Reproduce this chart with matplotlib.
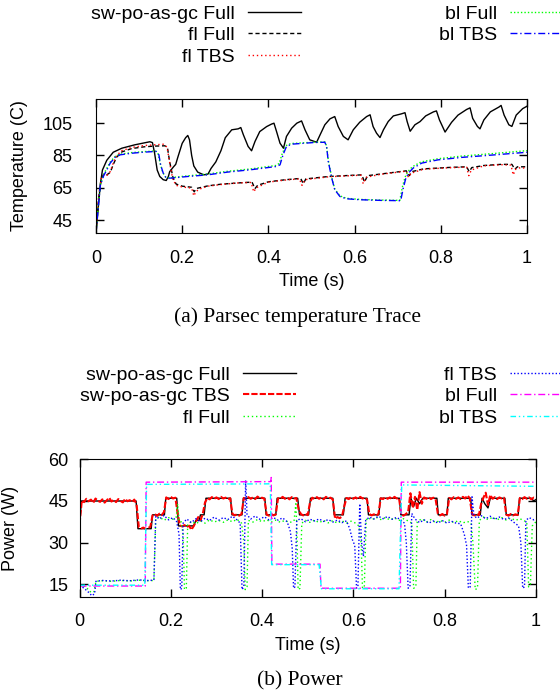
import matplotlib
matplotlib.use("Agg")
import matplotlib.pyplot as plt
import numpy as np

plt.rcParams['font.family'] = ['Liberation Sans', 'DejaVu Sans']

# ---- (a) temperature trace, (time s, temperature C) ----
sw_full_t = [0, 0.005, 0.01, 0.015, 0.025, 0.04, 0.06, 0.09, 0.125, 0.131, 0.136, 0.142, 0.148, 0.156, 0.163,
             0.168, 0.171, 0.18, 0.185, 0.19, 0.2, 0.208, 0.213, 0.217, 0.222, 0.227, 0.236, 0.25, 0.26, 0.267,
             0.278, 0.29, 0.3, 0.315, 0.33, 0.336, 0.342, 0.353, 0.361, 0.369, 0.38, 0.396, 0.407, 0.413, 0.419,
             0.427, 0.435, 0.442, 0.454, 0.466, 0.477, 0.485, 0.496, 0.512, 0.52, 0.531, 0.543, 0.554, 0.562,
             0.574, 0.585, 0.597, 0.612, 0.628, 0.636, 0.643, 0.651, 0.659, 0.667, 0.678, 0.69, 0.709, 0.717,
             0.722, 0.729, 0.74, 0.752, 0.765, 0.783, 0.79, 0.797, 0.81, 0.825, 0.84, 0.86, 0.868, 0.874, 0.885,
             0.891, 0.9, 0.915, 0.935, 0.94, 0.947, 0.958, 0.965, 0.975, 0.99, 1.0]
sw_full_v = [37, 52, 67, 76, 82, 87, 89.5, 91.6, 93.5, 93, 86.4, 76, 72, 70, 69.5,
             72, 75, 78, 79.5, 84, 92.5, 96, 97.4, 94.7, 85, 78.5, 74.7, 73, 73.5, 77,
             81, 88, 96, 100.9, 101.5, 102.3, 97.8, 90.6, 87.9, 93.7, 99.8, 102.9, 104.4, 105, 99.8,
             92.6, 89.5, 96.8, 101.9, 105, 106.4, 100.9, 94.7, 93.2, 97.8, 104, 107.7, 109.1, 102.9,
             96.8, 94.7, 100.9, 105.6, 109.1, 110.2, 102.9, 98.8, 96.1, 100.9, 106, 109.5, 110.8, 111.5,
             106, 100, 104, 106, 109.5, 112, 112.6, 107, 99.5, 105.5, 110, 113.5, 114.5, 108, 103,
             101.5, 107, 112, 115, 116, 110, 104, 103, 110, 114, 115.5]

fl_full_t = [0, 0.006, 0.012, 0.018, 0.025, 0.033, 0.041, 0.048, 0.06, 0.083, 0.113, 0.136, 0.16, 0.166, 0.171,
             0.179, 0.186, 0.2, 0.222, 0.228, 0.232, 0.26, 0.29, 0.33, 0.362, 0.369, 0.375, 0.4, 0.44, 0.475,
             0.481, 0.487, 0.54, 0.6, 0.617, 0.623, 0.63, 0.66, 0.72, 0.727, 0.733, 0.76, 0.82, 0.86, 0.866,
             0.872, 0.9, 0.94, 0.965, 0.972, 0.978, 1.0]
fl_full_v = [37, 58, 70, 73.5, 73, 74.5, 80, 84, 87.2, 89.3, 90.4, 90.8, 91, 89.5, 81,
             71, 67.3, 66, 65.3, 62.5, 64.5, 66.2, 67.2, 68, 68.5, 64.5, 66.5, 68.7, 70, 70.8,
             67.5, 70.5, 72, 72.8, 73, 68.5, 72.5, 73.5, 75.5, 72.5, 75, 76.7, 77.6, 78, 75,
             77.5, 78.8, 79.5, 79.5, 76.5, 78, 78]

fl_tbs_t = [0, 0.006, 0.012, 0.018, 0.025, 0.033, 0.041, 0.048, 0.06, 0.083, 0.113, 0.136, 0.158, 0.165, 0.17,
            0.178, 0.186, 0.2, 0.222, 0.227, 0.232, 0.238, 0.26, 0.29, 0.33, 0.36, 0.366, 0.372, 0.4, 0.44,
            0.472, 0.478, 0.485, 0.54, 0.6, 0.615, 0.62, 0.627, 0.66, 0.72, 0.725, 0.731, 0.76, 0.82, 0.86,
            0.865, 0.871, 0.9, 0.94, 0.963, 0.968, 0.974, 0.985, 1.0]
fl_tbs_v = [37, 60, 70.5, 73, 72.5, 75, 81, 85, 88, 90, 91.2, 91.6, 92, 90, 82,
            70.5, 66.5, 65.5, 64.8, 60, 62.5, 64, 66, 67, 68, 68.3, 62.5, 65, 68.5, 69.8,
            70.5, 66.5, 70, 71.8, 72.6, 72.8, 67.5, 71.5, 73.3, 75.3, 71.5, 74, 76.5, 77.4, 77.8,
            72.5, 76, 78.6, 79.3, 79, 73, 76.5, 77.5, 77]

bl_full_t = [0, 0.005, 0.01, 0.018, 0.025, 0.033, 0.044, 0.056, 0.083, 0.113, 0.138, 0.144, 0.149, 0.155, 0.162,
             0.175, 0.213, 0.259, 0.305, 0.36, 0.417, 0.425, 0.432, 0.44, 0.452, 0.504, 0.531, 0.535, 0.539,
             0.547, 0.554, 0.566, 0.581, 0.612, 0.66, 0.705, 0.711, 0.717, 0.723, 0.734, 0.754, 0.794, 0.848,
             0.926, 1.0]
bl_full_v = [37, 53, 67, 73.5, 77, 81, 84.3, 85.8, 86.8, 87.4, 87.8, 86, 80, 74.5, 71.3,
             71.3, 72.4, 73.5, 75.2, 76.7, 78.8, 80, 86, 91, 92.4, 93.2, 93.4, 91, 82,
             71.5, 64.2, 60, 58.5, 57.8, 57.4, 57.2, 65.5, 71.5, 74.8, 78, 81, 83, 84.6,
             86.3, 88]

bl_tbs_t = [0, 0.005, 0.01, 0.018, 0.025, 0.033, 0.044, 0.056, 0.083, 0.113, 0.14, 0.146, 0.15, 0.156, 0.163,
            0.175, 0.213, 0.259, 0.305, 0.36, 0.419, 0.427, 0.434, 0.442, 0.454, 0.504, 0.531, 0.535, 0.539,
            0.547, 0.554, 0.566, 0.581, 0.612, 0.66, 0.707, 0.713, 0.719, 0.725, 0.736, 0.756, 0.794, 0.848,
            0.926, 1.0]
bl_tbs_v = [37, 52, 66.4, 72.6, 76, 80.3, 83.8, 85.4, 86.4, 87.1, 87.5, 85.4, 79.2, 74.1, 71,
            71, 72, 73, 74.7, 76.2, 78.2, 79.2, 85.4, 90.6, 92, 93, 93.2, 90.6, 81.3,
            71, 63.8, 59.6, 58.2, 57.6, 57.2, 57, 64.8, 71, 74.1, 77.2, 80.3, 82.3, 83.8,
            85.4, 87]

# ---- (b) power, (time s, power W) ----
p_sw_full_t = [0, 0.004, 0.124, 0.128, 0.157, 0.16, 0.186, 0.189, 0.213, 0.217, 0.25, 0.255, 0.262, 0.265,
               0.273, 0.277, 0.331, 0.334, 0.356, 0.359, 0.406, 0.409, 0.43, 0.433, 0.478, 0.482, 0.502,
               0.506, 0.555, 0.558, 0.578, 0.582, 0.63, 0.633, 0.656, 0.659, 0.701, 0.704, 0.722, 0.726,
               0.732, 0.738, 0.745, 0.752, 0.783, 0.786, 0.805, 0.808, 0.857, 0.86, 0.878, 0.882, 0.888,
               0.895, 0.9, 0.932, 0.935, 0.961, 0.964, 0.99, 0.995, 1.0]
p_sw_full_v = [36, 45, 45, 35, 35, 40, 40, 46, 46, 36, 36, 38, 38, 40,
               40, 46, 46, 40, 40, 46, 46, 40, 40, 46, 46, 40, 40,
               46, 46, 40, 40, 46, 46, 40, 40, 46, 46, 40, 40, 46,
               43, 46, 44, 46, 46, 40, 40, 46, 46, 40, 40, 46, 44,
               42.5, 46, 46, 40, 40, 46, 46, 45, 45.5]

# sw-po-as-gc TBS sampled every 5 ms
p_sw_tbs_t = np.linspace(0, 1, 201)
p_sw_tbs_v = [36.5, 45.2, 44.6, 45.8, 44.9, 45.5, 44.3, 45.9, 45.1, 44.7,
              45.6, 44.4, 45.3, 46.2, 44.8, 45.4, 44.6, 45.7, 45.0, 44.5,
              45.8, 44.9, 45.3, 44.6, 45.5, 43.8, 35.5, 35.1, 35.4, 34.9,
              35.3, 35.6, 39.8, 40.3, 39.6, 40.4, 39.9, 41.0, 46.3, 45.7,
              46.5, 45.9, 46.2, 40.5, 36.2, 35.8, 36.3, 35.6, 36.1, 34.6,
              35.9, 37.5, 39.2, 38.0, 40.3, 44.5, 46.1, 45.6, 46.4, 45.8,
              46.3, 45.7, 46.5, 45.9, 46.2, 45.6, 46.0, 40.4, 39.8, 40.2,
              39.7, 40.3, 46.1, 45.6, 46.4, 45.8, 46.3, 45.7, 46.6, 45.9,
              46.2, 45.8, 40.1, 39.7, 40.3, 39.8, 40.2, 46.0, 45.7, 46.5,
              45.8, 46.3, 45.6, 46.4, 45.9, 46.1, 42.0, 40.3, 39.8, 40.4,
              39.9, 44.5, 46.2, 45.7, 46.4, 45.8, 46.3, 45.6, 46.5, 45.9,
              46.2, 45.5, 38.6, 39.2, 38.8, 39.4, 43.0, 46.1, 45.7, 46.4,
              45.8, 46.3, 45.6, 46.5, 45.9, 46.2, 45.5, 40.3, 39.8, 40.2,
              39.6, 40.4, 46.0, 45.7, 46.4, 45.8, 46.3, 45.6, 46.5, 45.9,
              46.1, 40.2, 39.7, 40.3, 41.0, 47.8, 42.5, 46.5, 41.8, 48.2,
              44.0, 46.3, 45.8, 46.4, 45.7, 46.2, 45.9, 40.5, 39.8, 40.3,
              39.7, 40.2, 46.1, 45.6, 46.4, 45.8, 46.3, 45.7, 46.5, 45.9,
              47.0, 46.0, 40.3, 39.8, 40.4, 39.9, 44.0, 46.2, 48.0, 43.5,
              47.2, 45.8, 46.4, 45.7, 46.3, 45.9, 46.2, 40.1, 39.7, 40.3,
              39.8, 40.2, 39.9, 46.1, 45.7, 46.4, 45.8, 46.3, 45.6, 46.2,
              45.9]

p_fl_full_t = [0, 0.01, 0.02, 0.025, 0.032, 0.036, 0.05, 0.07, 0.09, 0.11, 0.13, 0.15, 0.163, 0.167, 0.175,
               0.185, 0.195, 0.205, 0.212, 0.215, 0.218, 0.222, 0.227, 0.23, 0.234, 0.237, 0.245, 0.255,
               0.265, 0.275, 0.285, 0.295, 0.305, 0.315, 0.325, 0.335, 0.345, 0.355, 0.36, 0.363, 0.367,
               0.37, 0.38, 0.39, 0.4, 0.41, 0.42, 0.43, 0.44, 0.45, 0.46, 0.47, 0.474, 0.476, 0.479, 0.483,
               0.487, 0.495, 0.505, 0.515, 0.525, 0.535, 0.545, 0.555, 0.565, 0.575, 0.585, 0.595, 0.605,
               0.612, 0.617, 0.62, 0.624, 0.628, 0.632, 0.64, 0.65, 0.66, 0.67, 0.68, 0.69, 0.7, 0.71,
               0.72, 0.728, 0.732, 0.737, 0.74, 0.75, 0.76, 0.77, 0.78, 0.79, 0.8, 0.81, 0.82, 0.83, 0.84,
               0.85, 0.858, 0.862, 0.867, 0.872, 0.876, 0.885, 0.895, 0.905, 0.915, 0.925, 0.935, 0.945,
               0.955, 0.965, 0.975, 0.98, 0.984, 0.988, 0.992, 1.0]
p_fl_full_v = [14.8, 14.2, 13, 12, 12.3, 16, 16.2, 16, 16.3, 16.1, 16.4, 16.2, 16.3, 38.5, 39.3,
               38, 39, 38.4, 39.2, 44, 38, 38, 33, 13, 13.5, 36.5, 37.6, 36.8,
               37.8, 37, 38.2, 37.4, 38, 37.3, 38.2, 37.5, 38.4, 37, 30, 13, 14,
               38, 37.4, 38.3, 37.5, 38.2, 37.4, 38.1, 37.3, 38, 37.2, 37.8, 44, 36, 13, 13.5,
               37, 38, 37.3, 38.1, 37.2, 38, 37.1, 37.9, 37, 37.8, 37.1, 37.7, 37,
               36, 30, 13.5, 14, 38, 39, 38.2, 39.1, 38.3, 39, 38.2, 38.9, 38, 38.6,
               37.8, 37, 13.5, 14, 37.5, 38.6, 37.4, 38.3, 37.2, 38, 37.3, 38.1, 37.2, 37.9, 37.1,
               37.6, 37, 30, 13, 13.5, 38, 39.2, 38.3, 39.1, 38.2, 39, 38.1, 38.8,
               38, 38.6, 37.8, 37.5, 14, 15, 36, 37.5]

p_fl_tbs_t = [0, 0.01, 0.02, 0.027, 0.033, 0.036, 0.05, 0.07, 0.09, 0.11, 0.13, 0.15, 0.163, 0.167, 0.175,
              0.185, 0.195, 0.205, 0.213, 0.218, 0.221, 0.224, 0.227, 0.235, 0.245, 0.255, 0.265, 0.275,
              0.285, 0.295, 0.305, 0.315, 0.325, 0.335, 0.345, 0.352, 0.356, 0.36, 0.364, 0.367, 0.375,
              0.385, 0.395, 0.405, 0.415, 0.425, 0.435, 0.445, 0.455, 0.462, 0.466, 0.469, 0.472, 0.476,
              0.485, 0.495, 0.505, 0.515, 0.525, 0.535, 0.545, 0.555, 0.565, 0.575, 0.585, 0.592, 0.598,
              0.603, 0.607, 0.61, 0.614, 0.618, 0.622, 0.627, 0.635, 0.645, 0.655, 0.665, 0.675, 0.685,
              0.695, 0.705, 0.712, 0.716, 0.72, 0.724, 0.728, 0.735, 0.745, 0.755, 0.765, 0.775, 0.785,
              0.795, 0.805, 0.815, 0.825, 0.835, 0.843, 0.848, 0.852, 0.856, 0.86, 0.864, 0.87, 0.88,
              0.89, 0.9, 0.91, 0.92, 0.93, 0.94, 0.95, 0.962, 0.967, 0.971, 0.975, 0.978, 0.985, 0.995, 1.0]
p_fl_tbs_v = [14.5, 13.5, 12, 10.8, 11.5, 16, 16.3, 16.1, 16.4, 16.2, 16.5, 16.3, 16.4, 39.5, 38.5,
              39.8, 38.2, 39, 37.5, 33, 13, 13.5, 37, 38.5, 37.2, 38.6, 37.5, 38.8,
              38, 39.2, 38.1, 39, 38.3, 39.5, 38.2, 37, 13, 14, 52.5, 40, 38.5,
              39.6, 38.4, 39.3, 38.2, 39, 38.1, 38.9, 37.5, 34, 28, 13.5, 14, 38,
              38.6, 37.5, 38.4, 37.8, 38.5, 37.6, 38.3, 37.4, 38.1, 37.2, 37.8, 35, 31,
              29, 13.5, 14, 44, 30, 25, 38, 39.2, 38.5, 39.5, 38.6, 39.4, 38.4,
              39.1, 38, 37, 30, 13.5, 14, 40.5, 38.5, 37.2, 38.2, 37, 37.8, 37.1,
              37.9, 37, 37.7, 37, 36.8, 33, 29, 13.5, 14, 46.5, 40, 38.8, 39.7,
              38.6, 39.5, 38.4, 39.2, 38.3, 38.9, 37.5, 36, 30, 13.5, 14, 38, 39, 38.2, 38.5]

p_bl_full_t = [0, 0.144, 0.146, 0.3, 0.419, 0.42, 0.4215, 0.527, 0.529, 0.703, 0.705, 1.0]
p_bl_full_v = [14.3, 14.3, 51.8, 51.9, 52, 53.5, 22.2, 22.2, 13.5, 13.5, 51.8, 51.8]

p_bl_tbs_t = [0, 0.143, 0.147, 0.3, 0.418, 0.421, 0.525, 0.53, 0.7, 0.706, 1.0]
p_bl_tbs_v = [14.6, 14.6, 51, 51.1, 51.2, 22, 22, 13.3, 13.3, 50.8, 50.3]

fig = plt.figure(figsize=(5.6, 6.93), dpi=100)
fs = 13
lfs = 14
leg_kw = dict(frameon=False, markerfirst=False, fontsize=lfs, handlelength=2.75,
              handletextpad=0.65, labelspacing=0.2, borderpad=0, borderaxespad=0)

# ---------- top panel ----------
ax1 = fig.add_axes([0.1714, 0.6638, 0.7696, 0.1934])
ax1.plot(sw_full_t, sw_full_v, color="black", lw=1.0, label="sw-po-as-gc Full")
ax1.plot(fl_full_t, fl_full_v, color="black", lw=1.0, ls=(0, (3, 2)), label="fl Full")
ax1.plot(fl_tbs_t, fl_tbs_v, color="#ff0000", lw=1.0, ls=(0, (1, 2)), label="fl TBS")
ax1.plot(bl_full_t, bl_full_v, color="#00ff00", lw=1.0, ls=(0, (1, 1.5)), label="bl Full")
ax1.plot(bl_tbs_t, bl_tbs_v, color="#0000ff", lw=1.0, ls=(0, (5, 2, 1, 2)), label="bl TBS")
ax1.set_xlim(0, 1)
ax1.set_ylim(37, 120)
ax1.set_xticks([0, 0.2, 0.4, 0.6, 0.8, 1])
ax1.set_xticklabels(["0", "0.2", "0.4", "0.6", "0.8", "1"])
ax1.set_yticks([45, 65, 85, 105])
ax1.tick_params(direction="in", length=6, width=1, top=True, right=True, labelsize=fs)
ax1.tick_params(axis="y", pad=17)
ax1.tick_params(axis="x", pad=12)
ax1.set_xlabel("Time (s)", fontsize=fs)
ax1.set_ylabel("Temperature (C)", fontsize=fs)
ax1.xaxis.set_label_coords(0.5, -0.3)
ax1.yaxis.set_label_coords(-0.158, 0.5)

h1, l1 = ax1.get_legend_handles_labels()
fig.legend(h1[:3], l1[:3], loc="upper right", bbox_to_anchor=(301 / 560, 1 - 5 / 693), **leg_kw)
fig.legend(h1[3:], l1[3:], loc="upper right", bbox_to_anchor=(563 / 560, 1 - 5 / 693), **leg_kw)

fig.text(298 / 560, 1 - 317 / 693, "(a) Parsec temperature Trace", ha="center", va="center",
         fontsize=15.5, family=["Liberation Serif", "DejaVu Serif"])

# ---------- bottom panel ----------
ax2 = fig.add_axes([0.142, 0.138, 0.815, 0.199])
ax2.plot(p_sw_full_t, p_sw_full_v, color="black", lw=1.0, label="sw-po-as-gc Full")
ax2.plot(p_sw_tbs_t, p_sw_tbs_v, color="#ff0000", lw=1.5, ls=(0, (3, 1)), label="sw-po-as-gc TBS")
ax2.plot(p_fl_full_t, p_fl_full_v, color="#00ff00", lw=1.0, ls=(0, (1, 2)), label="fl Full")
ax2.plot(p_fl_tbs_t, p_fl_tbs_v, color="#0000ff", lw=1.0, ls=(0, (1, 1.5)), label="fl TBS")
ax2.plot(p_bl_full_t, p_bl_full_v, color="#ff00ff", lw=1.0, ls=(0, (5, 2, 1, 2)), label="bl Full")
ax2.plot(p_bl_tbs_t, p_bl_tbs_v, color="#00ffff", lw=1.0, ls=(0, (4, 2, 1, 2, 1, 2)), label="bl TBS")
ax2.set_xlim(0, 1)
ax2.set_ylim(10.2, 60)
ax2.set_xticks([0, 0.2, 0.4, 0.6, 0.8, 1])
ax2.set_xticklabels(["0", "0.2", "0.4", "0.6", "0.8", "1"])
ax2.set_yticks([15, 30, 45, 60])
ax2.tick_params(direction="in", length=6, width=1, top=True, right=True, labelsize=fs)
ax2.tick_params(axis="y", pad=8)
ax2.tick_params(axis="x", pad=11)
ax2.set_xlabel("Time (s)", fontsize=fs)
ax2.set_ylabel("Power (W)", fontsize=fs)
ax2.xaxis.set_label_coords(0.5, -0.29)
ax2.yaxis.set_label_coords(-0.1325, 0.5)

h2, l2 = ax2.get_legend_handles_labels()
fig.legend(h2[:3], l2[:3], loc="upper right", bbox_to_anchor=(296 / 560, 1 - 366 / 693), **leg_kw)
fig.legend(h2[3:], l2[3:], loc="upper right", bbox_to_anchor=(563 / 560, 1 - 366 / 693), **leg_kw)

fig.text(300 / 560, 1 - 681 / 693, "(b) Power", ha="center", va="center",
         fontsize=15.5, family=["Liberation Serif", "DejaVu Serif"])

fig.savefig("out.png", dpi=100)
